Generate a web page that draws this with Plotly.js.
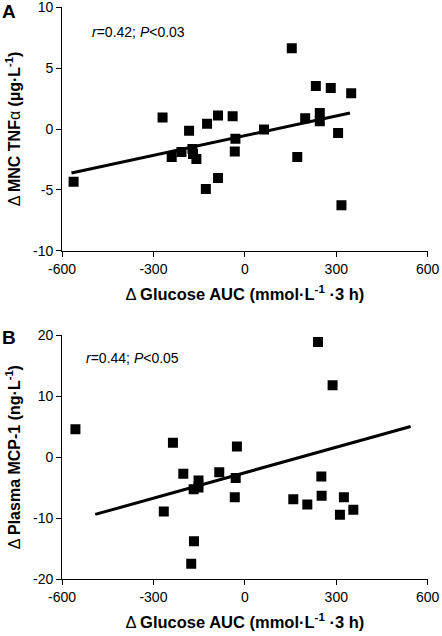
<!DOCTYPE html>
<html>
<head>
<meta charset="utf-8">
<script src="https://cdn.plot.ly/plotly-3.0.1.min.js"></script>
<style>html,body{margin:0;padding:0;background:#fff;}#chart{width:442px;height:636px;}</style>
</head>
<body>
<div id="chart"></div>
<script>
// Panel A: Δ Glucose AUC vs Δ MNC TNFα
const glucoseA = [-562, -270, -240, -208, -172, -170, -159, -183, -124, -88, -88, -128, -40, -31, -33, 63, 154, 172, 198, 233, 246, 246, 282, 306, 317, 349];
const tnfA     = [-4.33, 0.95, -2.30, -1.89, -1.64, -2.05, -2.47, -0.14, 0.44, 1.12, -4.03, -4.93, 1.04, -0.80, -1.84, -0.05, 6.63, -2.30, 0.88, 3.53, 1.32, 0.63, 3.37, -0.33, -6.27, 2.93];
const fitAX = [-569, 345];
const fitAY = [-3.62, 1.32];

// Panel B: Δ Glucose AUC vs Δ Plasma MCP-1
const glucoseB = [-556, -236, -202, -266, -168, -152, -152, -167, -176, -84, -26, -30, -33, 159, 205, 240, 251, 252, 288, 325, 312, 356];
const mcpB     = [4.59, 2.35, -2.74, -8.92, -5.25, -3.83, -4.98, -13.8, -17.5, -2.46, 1.75, -3.44, -6.56, -6.89, -7.76, 18.9, -3.17, -6.34, 11.8, -6.56, -9.45, -8.63];
const fitBX = [-491, 544];
const fitBY = [-9.40, 5.03];

const xTicks = [-600, -300, 0, 300, 600];
const yTicksA = [-10, -5, 0, 5, 10];
const yTicksB = [-20, -10, 0, 10, 20];

const FONT = "Liberation Sans, Arial, sans-serif";
const xTitle = "Δ <b>Glucose AUC (mmol·L<sup>-1</sup> ·3 h)</b>";

const marker = {symbol: "square", size: 10, color: "#000"};
const traces = [
  {x: glucoseA, y: tnfA, mode: "markers", type: "scatter", marker: marker, xaxis: "x", yaxis: "y", showlegend: false},
  {x: fitAX, y: fitAY, mode: "lines", type: "scatter", line: {color: "#000", width: 3}, xaxis: "x", yaxis: "y", showlegend: false},
  {x: glucoseB, y: mcpB, mode: "markers", type: "scatter", marker: marker, xaxis: "x2", yaxis: "y2", showlegend: false},
  {x: fitBX, y: fitBY, mode: "lines", type: "scatter", line: {color: "#000", width: 3}, xaxis: "x2", yaxis: "y2", showlegend: false}
];

function xax(anchor) {
  return {
    domain: [0.1403, 0.9676], anchor: anchor, range: [-600, 600],
    tickvals: xTicks, ticktext: xTicks.map(String),
    showline: true, linecolor: "#000", linewidth: 1, mirror: false,
    ticks: "outside", ticklen: 5, tickcolor: "#000", tickwidth: 1,
    showgrid: false, zeroline: false, ticklabeloverflow: "allow",
    tickfont: {family: FONT, size: 14, color: "#000"},
    title: {text: xTitle, font: {family: FONT, size: 16.5, color: "#000"}, standoff: 12}
  };
}
function yax(anchor, dom, rng, ticks, title) {
  return {
    domain: dom, anchor: anchor, range: rng,
    tickvals: ticks, ticktext: ticks.map(String),
    showline: true, linecolor: "#000", linewidth: 1, mirror: false,
    ticks: "outside", ticklen: 5, tickcolor: "#000", tickwidth: 1,
    showgrid: false, zeroline: false, ticklabeloverflow: "allow",
    tickfont: {family: FONT, size: 14, color: "#000"},
    title: {text: title, font: {family: FONT, size: 16, color: "#000"}, standoff: 8}
  };
}

const layout = {
  width: 442, height: 636,
  margin: {l: 0, r: 0, t: 0, b: 0},
  paper_bgcolor: "#fff", plot_bgcolor: "#fff",
  showlegend: false,
  xaxis: xax("y"),
  yaxis: yax("x", [0.6058, 0.9885], [-10, 10], yTicksA, "Δ <b>MNC TNF</b>α <b>(µg·L<sup>-1</sup>)</b>"),
  xaxis2: xax("y2"),
  yaxis2: yax("x2", [0.0896, 0.4728], [-20, 20], yTicksB, "Δ <b>Plasma MCP-1 (ng·L<sup>-1</sup>)</b>"),
  annotations: [
    {text: "<b>A</b>", xref: "paper", yref: "paper", x: 0, y: 1 - 12/636, xanchor: "left", yanchor: "middle", showarrow: false, font: {family: FONT, size: 19, color: "#000"}},
    {text: "<b>B</b>", xref: "paper", yref: "paper", x: 0, y: 1 - 337/636, xanchor: "left", yanchor: "middle", showarrow: false, font: {family: FONT, size: 19, color: "#000"}},
    {text: "<i>r</i>=0.42; <i>P</i><0.03", xref: "paper", yref: "paper", x: 90/442, y: 1 - 32/636, xanchor: "left", yanchor: "middle", showarrow: false, font: {family: FONT, size: 14, color: "#000"}},
    {text: "<i>r</i>=0.44; <i>P</i><0.05", xref: "paper", yref: "paper", x: 84/442, y: 1 - 358/636, xanchor: "left", yanchor: "middle", showarrow: false, font: {family: FONT, size: 14, color: "#000"}}
  ]
};

Plotly.newPlot("chart", traces, layout, {displayModeBar: false, staticPlot: true});
</script>
</body>
</html>
